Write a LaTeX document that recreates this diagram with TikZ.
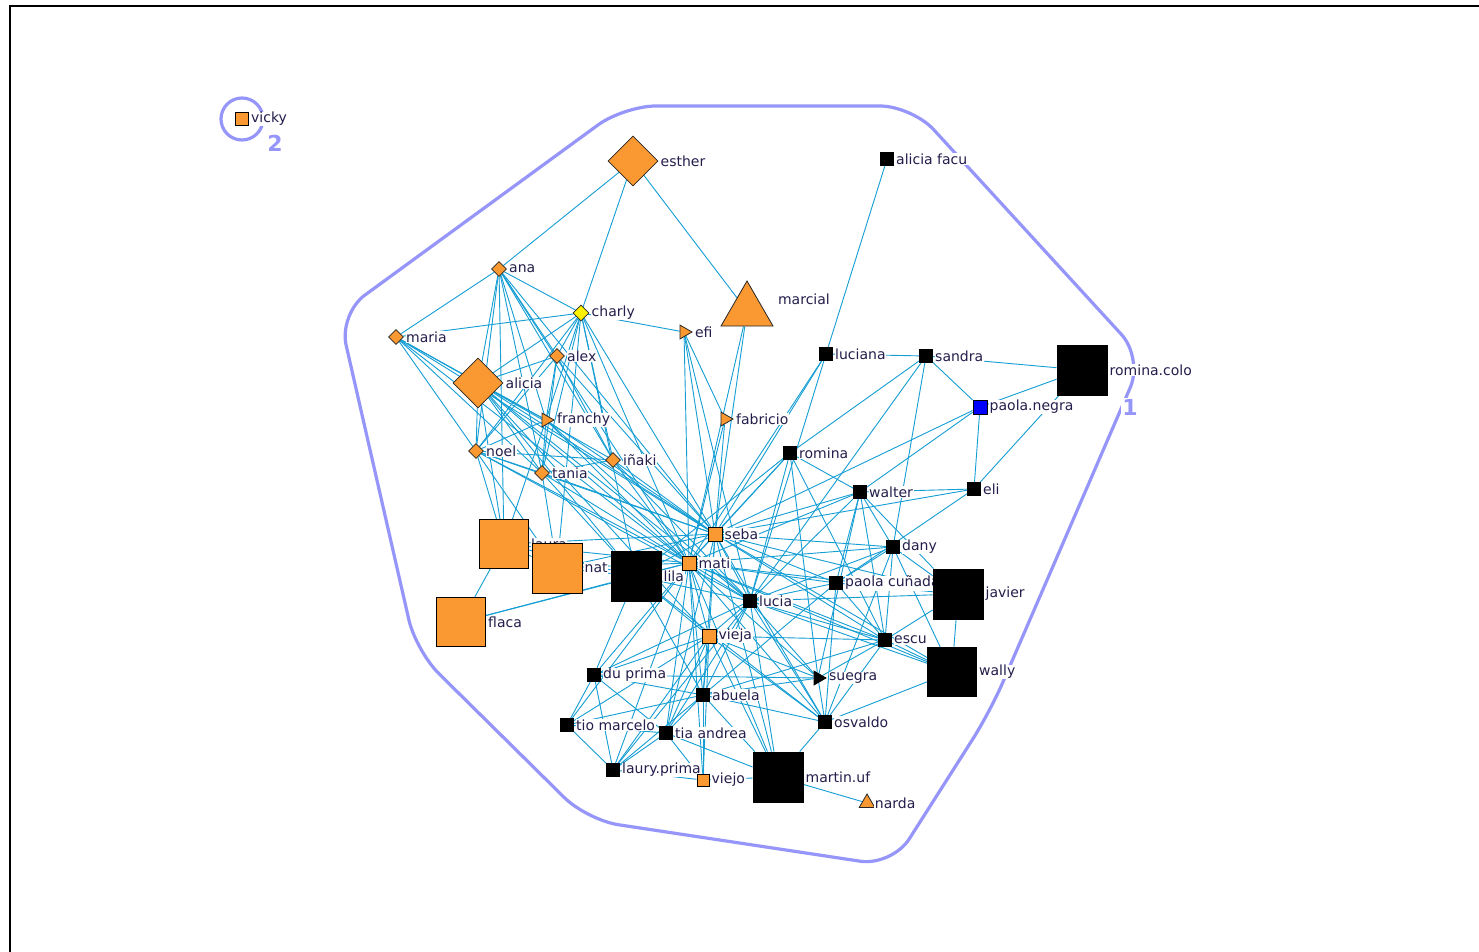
\documentclass[tikz,border=0pt]{standalone}
\usepackage{fontspec}
\setmainfont{DejaVu Sans}
\usetikzlibrary{shapes.geometric}
\definecolor{nodeor}{RGB}{250,152,50}
\definecolor{edgec}{RGB}{20,158,212}
\definecolor{hullc}{RGB}{150,150,250}
\definecolor{labc}{RGB}{35,30,75}
\pgfdeclarelayer{paper}
\pgfdeclarelayer{hull}
\pgfdeclarelayer{links}
\pgfsetlayers{paper,hull,links,main}
\begin{document}
\begin{tikzpicture}[x=1pt,y=-1pt,
  every label/.style={fill=white,inner sep=0.6pt,text=labc,font=\fontsize{14}{15}\selectfont},
  label distance=1.5pt,
  sqr/.style={rectangle,draw=black,line width=0.8pt,minimum size=#1,inner sep=0pt},
  osq/.style={sqr=#1,fill=nodeor},
  bsq/.style={sqr=#1,fill=black},
  dia/.style={diamond,draw=black!85,line width=0.8pt,fill=nodeor,minimum size=#1,inner sep=0pt},
  trir/.style={regular polygon,regular polygon sides=3,shape border rotate=-90,draw=black!85,line width=0.8pt,fill=nodeor,minimum size=#1,inner sep=0pt},
  triu/.style={regular polygon,regular polygon sides=3,draw=black!85,line width=0.8pt,fill=nodeor,minimum size=#1,inner sep=0pt},
  edge/.style={draw=edgec,line width=0.9pt},
  hullline/.style={draw=hullc,line width=3.2pt,line join=round},
  grouplab/.style={fill=white,inner sep=1pt,text=hullc,font=\fontsize{22}{24}\selectfont\bfseries}
]
\useasboundingbox (0,0) rectangle (1479,952);
\begin{pgfonlayer}{paper}
\fill[white] (0,0) rectangle (1479,952);
\end{pgfonlayer}
\draw[black,line width=1.4pt] (1479,6) -- (10,6) -- (10,952);

% ---- actors ----
\node[osq=13pt,label=right:vicky] (vicky) at (242,119) {};
\node[dia=50pt,label=right:esther] (esther) at (633,161) {};
\node[bsq=13pt,label=right:alicia facu] (aliciafacu) at (887,159) {};
\node[dia=15pt,label=right:ana] (ana) at (499,269) {};
\node[dia=16pt,fill=yellow,label=right:charly] (charly) at (581,313) {};
\node[dia=15pt,label=right:maria] (maria) at (396,337) {};
\node[dia=15pt,label=right:alex] (alex) at (557,356) {};
\node[dia=50pt,label=right:alicia] (alicia) at (478,383) {};
\node[trir=16pt,label=right:efi] (efi) at (684,332) {};
\node[triu=60pt,label={[xshift=11pt,yshift=12pt]right:marcial}] (marcial) at (747,311) {};
\node[bsq=13pt,label=right:luciana] (luciana) at (826,354) {};
\node[bsq=13pt,label=right:sandra] (sandra) at (926,356) {};
\node[bsq=50pt,label=right:romina.colo] (rominacolo) at (1082,370) {};
\node[sqr=14pt,fill=blue,label=right:paola.negra] (paolanegra) at (980,407) {};
\node[trir=16pt,label=right:fabricio] (fabricio) at (725,419) {};
\node[trir=16pt,label=right:franchy] (franchy) at (546,420) {};
\node[dia=15pt,label=right:noel] (noel) at (476,451) {};
\node[dia=15pt,label=right:iñaki] (inaki) at (613,460) {};
\node[dia=15pt,label=right:tania] (tania) at (542,473) {};
\node[bsq=13pt,label=right:romina] (romina) at (790,453) {};
\node[bsq=13pt,label=right:walter] (walter) at (860,492) {};
\node[bsq=13pt,label=right:eli] (eli) at (974,489) {};
\node[osq=14pt,label=right:seba] (seba) at (715,534) {};
\node[bsq=13pt,label=right:dany] (dany) at (893,547) {};
\node[osq=49pt,label=right:laura] (laura) at (504,544) {};
\node[osq=50pt,label=right:nat] (nat) at (557,568) {};
\node[bsq=50pt,label=right:lila] (lila) at (636,576) {};
\node[osq=14pt,label=right:mati] (mati) at (689,563) {};
\node[bsq=13pt,label=right:paola cuñada] (paolacu) at (836,583) {};
\node[bsq=50pt,label=right:javier] (javier) at (958,594) {};
\node[bsq=13pt,label=right:lucia] (lucia) at (750,601) {};
\node[osq=49pt,label=right:flaca] (flaca) at (461,622) {};
\node[osq=14pt,label=right:vieja] (vieja) at (709,636) {};
\node[bsq=13pt,label=right:escu] (escu) at (885,640) {};
\node[bsq=49pt,label=right:wally] (wally) at (952,672) {};
\node[bsq=13pt,label=right:du prima] (duprima) at (594,675) {};
\node[trir=16pt,fill=black,draw=black,label=right:suegra] (suegra) at (818,678) {};
\node[bsq=13pt,label=right:abuela] (abuela) at (703,695) {};
\node[bsq=13pt,label=right:osvaldo] (osvaldo) at (825,722) {};
\node[bsq=13pt,label=right:tio marcelo] (tiomarcelo) at (567,725) {};
\node[bsq=13pt,label=right:tia andrea] (tiaandrea) at (666,733) {};
\node[bsq=13pt,label=right:laury.prima] (lauryprima) at (613,770) {};
\node[osq=12pt,label=right:viejo] (viejo) at (703,780) {};
\node[bsq=50pt,label=right:martin.uf] (martin) at (778,777) {};
\node[triu=18pt,label=right:narda] (narda) at (867,803) {};

% ---- group numbers ----
\node[grouplab] (g1) at (1130,407) {1};
\node[grouplab] (g2) at (275,143) {2};

% ---- group outlines ----
\begin{pgfonlayer}{hull}
\draw[hullline,rounded corners=32pt] (339,314) -- (624,106) -- (912,106) -- (1143,358)
  -- (990,712) -- (892,866) -- (587,820) -- (416,651) -- cycle;
\draw[hullline] (vicky.center) circle[radius=21pt];
\end{pgfonlayer}

% ---- ties ----
\begin{pgfonlayer}{links}
\foreach \a/\b in {
  esther/ana, esther/charly, esther/marcial,
  aliciafacu/luciana,
  luciana/sandra, luciana/seba, luciana/mati, luciana/lucia,
  sandra/rominacolo, sandra/paolanegra, sandra/dany, sandra/romina, sandra/lucia,
  rominacolo/paolanegra, rominacolo/eli,
  paolanegra/eli, paolanegra/seba, paolanegra/walter,
  eli/walter, eli/seba, eli/paolacu,
  romina/seba, romina/mati, romina/lucia, romina/walter, romina/escu, romina/suegra, romina/lila,
  walter/seba, walter/mati, walter/lucia, walter/dany, walter/paolacu, walter/escu,
  walter/javier, walter/suegra,
  dany/seba, dany/mati, dany/lucia, dany/paolacu, dany/escu, dany/javier, dany/osvaldo, dany/wally,
  paolacu/seba, paolacu/mati, paolacu/lucia, paolacu/javier, paolacu/escu, paolacu/osvaldo, paolacu/abuela,
  javier/wally, javier/lucia, javier/seba, javier/mati, javier/escu,
  escu/seba, escu/mati, escu/lucia, escu/wally, escu/osvaldo, escu/abuela, escu/vieja, escu/suegra,
  wally/osvaldo, wally/lucia, wally/mati, wally/seba,
  suegra/mati, suegra/lucia, suegra/vieja, suegra/abuela, suegra/osvaldo,
  osvaldo/mati, osvaldo/seba, osvaldo/lucia, osvaldo/vieja, osvaldo/abuela, osvaldo/martin, osvaldo/lila,
  martin/narda, martin/viejo, martin/mati, martin/lucia, martin/abuela, martin/vieja, martin/seba, martin/tiaandrea,
  efi/charly, efi/seba, efi/mati, efi/lucia, efi/fabricio,
  fabricio/seba, fabricio/mati,
  marcial/seba, marcial/mati,
  ana/maria, ana/charly, ana/alicia, ana/alex, ana/noel, ana/tania, ana/franchy, ana/inaki,
  ana/seba, ana/laura, ana/mati,
  maria/charly, maria/alicia, maria/noel, maria/franchy, maria/tania, maria/seba, maria/mati,
  charly/alex, charly/alicia, charly/franchy, charly/noel, charly/tania, charly/inaki,
  charly/seba, charly/mati, charly/lila, charly/nat,
  alex/alicia, alex/franchy, alex/noel, alex/tania, alex/inaki, alex/seba,
  alicia/noel, alicia/franchy, alicia/inaki, alicia/tania, alicia/seba, alicia/mati,
  alicia/lucia, alicia/laura, alicia/lila, alicia/vieja,
  franchy/noel, franchy/tania, franchy/seba, franchy/mati, franchy/lucia, franchy/laura,
  noel/inaki, noel/tania, noel/laura, noel/seba, noel/mati, noel/nat, noel/lucia,
  inaki/tania, inaki/seba, inaki/mati, inaki/lucia,
  tania/seba, tania/mati, tania/lila, tania/nat,
  laura/flaca, laura/nat, laura/lila, laura/mati, laura/seba,
  nat/lila, nat/mati, nat/seba,
  flaca/lila, flaca/mati,
  lila/mati, lila/seba, lila/lucia, lila/vieja, lila/abuela, lila/duprima,
  seba/mati, seba/lucia, seba/vieja, seba/abuela, seba/tiaandrea,
  mati/lucia, mati/vieja, mati/abuela, mati/duprima, mati/tiomarcelo, mati/tiaandrea, mati/lauryprima, mati/viejo,
  lucia/vieja, lucia/abuela, lucia/tiaandrea, lucia/duprima, lucia/lauryprima,
  vieja/abuela, vieja/duprima, vieja/tiomarcelo, vieja/tiaandrea, vieja/lauryprima, vieja/viejo,
  duprima/tiomarcelo, duprima/lauryprima, duprima/abuela, duprima/tiaandrea, duprima/suegra,
  tiomarcelo/lauryprima, tiomarcelo/tiaandrea, tiomarcelo/abuela,
  tiaandrea/lauryprima, tiaandrea/abuela, tiaandrea/viejo,
  lauryprima/viejo, lauryprima/abuela,
  abuela/viejo}
  \draw[edge] (\a) -- (\b);
\end{pgfonlayer}
\end{tikzpicture}
\end{document}
